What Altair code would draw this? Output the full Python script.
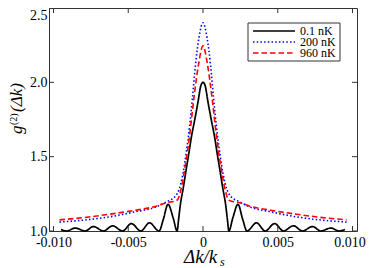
import altair as alt
import pandas as pd

# ---- data ----
dk_black = [-0.0095, -0.00911, -0.00855, -0.00788, -0.00733, -0.00665, -0.00605, -0.00538,
            -0.00479, -0.00416, -0.00358, -0.00294, -0.00265, -0.00234, -0.00200, -0.00173,
            -0.00163, -0.00151, -0.00132, -0.00113, -0.00095, -0.00078, -0.00055, -0.00033,
            -0.00015, 0.0,
            0.00015, 0.00033, 0.00055, 0.00078, 0.00095, 0.00113, 0.00132, 0.00151,
            0.00163, 0.00173, 0.00200, 0.00234, 0.00265, 0.00294, 0.00358, 0.00416,
            0.00479, 0.00538, 0.00605, 0.00665, 0.00733, 0.00788, 0.00855, 0.00911, 0.0095]
g_black = [1.01, 1.0, 1.02, 1.0, 1.03, 1.0, 1.035, 1.0,
           1.05, 1.0, 1.055, 1.0, 1.08, 1.18, 1.09, 1.0,
           1.08, 1.18, 1.29, 1.41, 1.52, 1.63, 1.75, 1.87,
           1.975, 2.0,
           1.975, 1.87, 1.75, 1.63, 1.52, 1.41, 1.29, 1.18,
           1.08, 1.0, 1.09, 1.18, 1.08, 1.0, 1.055, 1.0,
           1.05, 1.0, 1.035, 1.0, 1.03, 1.0, 1.02, 1.0, 1.01]

dk_blue = [-0.0096, -0.008, -0.00625, -0.0045, -0.00313, -0.00247, -0.0018, -0.0016,
           -0.00135, -0.00113, -0.0009, -0.0007, -0.0005, -0.00027, 0.0,
           0.00027, 0.0005, 0.0007, 0.0009, 0.00113, 0.00135, 0.0016, 0.0018,
           0.00247, 0.00313, 0.0045, 0.00625, 0.008, 0.0096]
g_blue = [1.06, 1.073, 1.095, 1.13, 1.162, 1.195, 1.24, 1.28,
          1.38, 1.52, 1.70, 1.90, 2.12, 2.30, 2.40,
          2.30, 2.12, 1.90, 1.70, 1.52, 1.38, 1.28, 1.24,
          1.195, 1.162, 1.13, 1.095, 1.073, 1.06]

dk_red = [-0.0096, -0.008, -0.00625, -0.0045, -0.00313, -0.00247, -0.0019, -0.0017,
          -0.0015, -0.0012, -0.0009, -0.0006, -0.0003, 0.0,
          0.0003, 0.0006, 0.0009, 0.0012, 0.0015, 0.0017, 0.0019,
          0.00247, 0.00313, 0.0045, 0.00625, 0.008, 0.0096]
g_red = [1.075, 1.09, 1.113, 1.14, 1.167, 1.19, 1.20, 1.21,
         1.27, 1.43, 1.64, 1.90, 2.12, 2.245,
         2.12, 1.90, 1.64, 1.43, 1.27, 1.21, 1.20,
         1.19, 1.167, 1.14, 1.113, 1.09, 1.075]

x_ticks = [-0.01, -0.005, 0.0, 0.005, 0.01]
y_ticks = [1.0, 1.5, 2.0, 2.5]
legend_labels = ["0.1 nK", "200 nK", "960 nK"]

W, H = 308, 223
SERIF = "Liberation Serif"

x_enc = alt.X("dk:Q",
              scale=alt.Scale(domain=[-0.0103, 0.0103], nice=False, zero=False),
              axis=alt.Axis(values=x_ticks, tickSize=0, domain=False, grid=False,
                            labelExpr="datum.value == 0 ? '0' : (datum.value < 0 ? '-' : '') + format(abs(datum.value), '.3f')",
                            labelOffset={"condition": {"test": "datum.value > 0.009", "value": -3}, "value": 0},
                            labelPadding=4, title=None))
y_enc = alt.Y("g:Q",
              scale=alt.Scale(domain=[1.0, 2.5], nice=False, zero=False),
              axis=alt.Axis(values=y_ticks, tickSize=0, domain=False, grid=False,
                            format=".1f", labelPadding=2, title=None,
                            labelOffset={"condition": {"test": "datum.value > 2.4", "value": 7}, "value": 0}))


def curve(xs, ys, color, dash, width):
    df = pd.DataFrame({"dk": xs, "g": ys, "o": list(range(len(xs)))})
    return alt.Chart(df).mark_line(color=color, strokeDash=dash, strokeWidth=width,
                                   interpolate="monotone").encode(x=x_enc, y=y_enc, order="o:Q")


black = curve(dk_black, g_black, "black", [1, 0], 1.7)
blue = curve(dk_blue, g_blue, "#0000ff", [1.5, 2.2], 1.6)
red = curve(dk_red, g_red, "#ff0000", [5.5, 3], 1.6)

xt = pd.DataFrame({"dk": x_ticks})
yt = pd.DataFrame({"g": y_ticks})
tick_color = "#333"
xt_bottom = alt.Chart(xt).mark_rule(color=tick_color).encode(x=x_enc, y=alt.value(H), y2=alt.value(H - 5))
xt_top = alt.Chart(xt).mark_rule(color=tick_color).encode(x=x_enc, y=alt.value(0), y2=alt.value(5))
yt_left = alt.Chart(yt).mark_rule(color=tick_color).encode(y=y_enc, x=alt.value(0), x2=alt.value(5))
yt_right = alt.Chart(yt).mark_rule(color=tick_color).encode(y=y_enc, x=alt.value(W), x2=alt.value(W - 5))

one = pd.DataFrame({"a": [0]})


def txt(s, x, y, size, style="italic", angle=0, align="left"):
    return alt.Chart(one).mark_text(align=align, baseline="alphabetic", font=SERIF, fontSize=size,
                                    fontStyle=style, angle=angle, color="black").encode(
        x=alt.value(x), y=alt.value(y), text=alt.value(s))


# axis titles (y: g^(2)(Δk), rotated; x: Δk/k_s)
titles = [
    txt("g", -27, 126, 17, angle=270),
    txt("(2)", -32, 117, 10, style="normal", angle=270),
    txt("(Δk)", -27, 104, 17, angle=270),
    txt("Δk/k", 135, 255, 19),
    txt("s", 171, 258, 12),
]

box = alt.Chart(one).mark_rect(fill="white", stroke="#333", strokeWidth=1).encode(
    x=alt.value(199), x2=alt.value(291), y=alt.value(15), y2=alt.value(53))

leg_styles = [("black", [1, 0], 1.7), ("#0000ff", [1.5, 2.2], 1.6), ("#ff0000", [5.5, 3], 1.6)]
leg_layers = [box]
for i, (lab, (c, d, w)) in enumerate(zip(legend_labels, leg_styles)):
    yy = 23 + 11 * i
    leg_layers.append(alt.Chart(one).mark_rule(color=c, strokeDash=d, strokeWidth=w).encode(
        x=alt.value(204), x2=alt.value(246), y=alt.value(yy)))
    leg_layers.append(alt.Chart(one).mark_text(align="left", baseline="middle", font=SERIF,
                                               fontSize=12, color="black").encode(
        x=alt.value(251), y=alt.value(yy), text=alt.value(lab)))

chart = alt.layer(black, blue, red, xt_bottom, xt_top, yt_left, yt_right, *titles, *leg_layers).properties(
    width=W, height=H, autosize="none",
    padding={"left": 41, "top": 0, "right": 9, "bottom": 37},
    background="white",
).configure_view(stroke="#333", strokeWidth=1).configure_axis(
    labelFont=SERIF, labelFontSize=14, labelColor="black",
)

chart.save("out.html", embed_options={"renderer": "svg", "actions": False})
